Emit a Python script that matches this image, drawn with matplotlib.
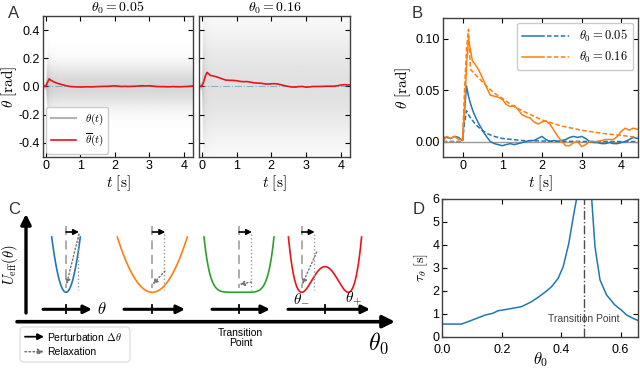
import numpy as np
import matplotlib
matplotlib.use("Agg")
import matplotlib.pyplot as plt
from matplotlib.lines import Line2D
from matplotlib.legend_handler import HandlerTuple
from matplotlib.patches import FancyBboxPatch

plt.rcParams['font.family'] = ['Liberation Sans', 'DejaVu Sans']
plt.rcParams['mathtext.fontset'] = 'cm'
plt.rcParams['axes.unicode_minus'] = False
plt.rcParams['font.size'] = 9

BLUE = '#1f77b4'
ORANGE = '#ff7f0e'
GREEN = '#2ca02c'
RED = '#e8141c'

# ---- mean trajectories (A red lines, B solid lines)
t_mean = [-0.5, -0.4, -0.3, -0.2, -0.1, 0, 0.05, 0.1, 0.15, 0.2, 0.25, 0.3, 0.4, 0.5,
          0.6, 0.7, 0.8, 0.9, 1.0, 1.1, 1.2, 1.3, 1.4, 1.5, 1.6, 1.7, 1.8, 1.9, 2.0,
          2.1, 2.2, 2.3, 2.4, 2.5, 2.6, 2.7, 2.8, 2.9, 3.0, 3.1, 3.2, 3.3, 3.4, 3.5,
          3.6, 3.7, 3.8, 3.9, 4.0, 4.1, 4.2, 4.3, 4.4]
mean_005 = [0.004, 0.004, 0.003, 0.005, 0.004, 0.001, 0.030, 0.054, 0.044, 0.037, 0.031,
            0.026, 0.018, 0.011, 0.005, 0.000, -0.002, -0.003, -0.004, -0.003, -0.002,
            -0.003, -0.002, -0.001, 0.000, 0.001, 0.001, 0.003, 0.005, 0.002, 0.000,
            0.001, 0.000, 0.001, 0.002, 0.004, 0.005, 0.004, 0.005, 0.003, 0.000,
            -0.001, -0.001, -0.002, -0.002, -0.001, -0.002, -0.002, -0.001, 0.000,
            0.002, 0.004, 0.003]
mean_016 = [0.000, 0.005, 0.003, 0.005, 0.002, 0.002, 0.030, 0.073, 0.100, 0.089, 0.078,
            0.076, 0.070, 0.062, 0.053, 0.045, 0.044, 0.043, 0.041, 0.036, 0.034, 0.035,
            0.031, 0.026, 0.024, 0.023, 0.019, 0.017, 0.019, 0.020, 0.017, 0.011, 0.005,
            0.000, -0.004, -0.004, -0.001, 0.000, -0.005, -0.003, 0.000, 0.000, 0.000,
            0.001, 0.002, 0.002, 0.002, 0.005, 0.010, 0.013, 0.011, 0.013, 0.012]

# ---- model fits (B dashed)
t_fit = [-0.5, 0, 0.05, 0.1, 0.15, 0.2, 0.3, 0.4, 0.5, 0.6, 0.8, 1.0, 1.25, 1.5, 2.0,
         2.5, 3.0, 3.5, 4.0, 4.4]
fit_005 = [0, 0, 0.018, 0.030, 0.026, 0.023, 0.018, 0.014, 0.011, 0.008, 0.005, 0.003,
           0.002, 0.001, 0.0005, 0.0002, 0.0001, 0, 0, 0]
fit_016 = [0, 0, 0.050, 0.090, 0.109, 0.070, 0.066, 0.062, 0.058, 0.054, 0.047, 0.042,
           0.035, 0.030, 0.021, 0.015, 0.011, 0.008, 0.006, 0.004]

# ---- spread of the single trajectories (A grey cloud)
t_cloud = [-0.08, 0.0, 0.03, 0.06, 0.1, 0.2, 0.4, 1.0, 2.0, 3.0, 4.3]
sigma_005 = [0.01, 0.015, 0.09, 0.13, 0.12, 0.11, 0.105, 0.105, 0.105, 0.105, 0.105]
dens_005 = [0.45, 0.45, 0.42, 0.38, 0.32, 0.28, 0.27, 0.27, 0.27, 0.27, 0.27]
sigma_016 = [0.01, 0.02, 0.22, 0.32, 0.3, 0.28, 0.27, 0.27, 0.27, 0.27, 0.27]
dens_016 = [0.45, 0.45, 0.36, 0.28, 0.24, 0.21, 0.2, 0.2, 0.2, 0.2, 0.2]

# ---- relaxation time vs theta0 (D)
theta0 = [0.0, 0.065, 0.10, 0.144, 0.17, 0.188, 0.23, 0.267, 0.30, 0.323, 0.35, 0.368,
          0.39, 0.407, 0.426, 0.441, 0.452, 0.458]
tau_left = [0.55, 0.55, 0.72, 0.94, 1.02, 1.13, 1.22, 1.31, 1.52, 1.72, 1.98, 2.18,
            2.54, 3.05, 4.07, 5.23, 6.0, 6.6]
theta0_r = [0.498, 0.503, 0.514, 0.531, 0.553, 0.581, 0.603, 0.62, 0.645, 0.66]
tau_right = [6.6, 6.0, 3.92, 2.47, 1.82, 1.38, 1.16, 0.95, 0.78, 0.70]
transition = 0.477

fig = plt.figure(figsize=(6.4, 3.68), dpi=100)


def style_axes(ax):
    ax.tick_params(direction='in', top=True, right=True, length=3.5, width=0.8,
                   labelsize=9, pad=2)
    for s in ax.spines.values():
        s.set_linewidth(1.0)
        s.set_color('0.25')


def draw_cloud(ax, sigma, dens):
    tt = np.linspace(-0.1, 4.35, 500)
    th = np.linspace(-0.55, 0.55, 300)
    sig = np.interp(tt, t_cloud, sigma)
    amp = np.interp(tt, t_cloud, dens)
    alpha = amp[None, :] * np.exp(-0.5 * (th[:, None] / sig[None, :]) ** 2)
    img = np.zeros((len(th), len(tt), 4))
    img[..., :3] = 0.4
    img[..., 3] = alpha
    ax.imshow(img, extent=[tt[0], tt[-1], th[0], th[-1]], origin='lower',
              aspect='auto', interpolation='bilinear', zorder=0)


# ---------------- Panel A
axA1 = fig.add_axes([0.0672, 0.5734, 0.2344, 0.3832])
axA2 = fig.add_axes([0.3110, 0.5734, 0.2360, 0.3832])
for ax, sig, dens, mean, title in [
        (axA1, sigma_005, dens_005, mean_005, r'$\theta_0 = 0.05$'),
        (axA2, sigma_016, dens_016, mean_016, r'$\theta_0 = 0.16$')]:
    draw_cloud(ax, sig, dens)
    ax.axhline(0, color=BLUE, alpha=0.45, lw=0.8, ls='-.')
    ax.plot(t_mean, mean, color=RED, lw=1.2)
    ax.set_xlim(-0.08, 4.27)
    ax.set_ylim(-0.5, 0.5)
    ax.set_xticks([0, 1, 2, 3, 4])
    ax.set_yticks([-0.4, -0.2, 0.0, 0.2, 0.4])
    ax.set_title(title, fontsize=10, pad=3)
    ax.set_xlabel(r'$t\ [\mathrm{s}]$', fontsize=11, labelpad=1)
    style_axes(ax)
axA1.set_ylabel(r'$\theta\ [\mathrm{rad}]$', fontsize=11, labelpad=0)
axA2.tick_params(labelleft=False)
axA1.legend([Line2D([], [], color='0.7', lw=1.5), Line2D([], [], color=RED, lw=1.2)],
            [r'$\theta(t)$', r'$\overline{\theta}(t)$'], loc='lower left',
            fontsize=8, handlelength=2.3, borderaxespad=0.3, framealpha=1)

# ---------------- Panel B
axB = fig.add_axes([0.6917, 0.5734, 0.3052, 0.3777])
axB.axhline(0, color='0.6', lw=1)
lb, = axB.plot(t_mean, mean_005, color=BLUE, lw=1.1)
lbf, = axB.plot(t_fit, fit_005, color=BLUE, lw=1.1, ls=(0, (3, 1.5)))
lo, = axB.plot(t_mean, mean_016, color=ORANGE, lw=1.1)
lof, = axB.plot(t_fit, fit_016, color=ORANGE, lw=1.1, ls=(0, (3, 1.5)))
axB.set_xlim(-0.5, 4.42)
axB.set_ylim(-0.015, 0.12)
axB.set_xticks([0, 1, 2, 3, 4])
axB.set_yticks([0.0, 0.05, 0.10])
axB.set_yticklabels(['0.00', '0.05', '0.10'])
axB.set_xlabel(r'$t\ [\mathrm{s}]$', fontsize=11, labelpad=1)
axB.set_ylabel(r'$\theta\ [\mathrm{rad}]$', fontsize=11, labelpad=2)
style_axes(axB)
axB.legend([(lb, lbf), (lo, lof)], [r'$\theta_0 = 0.05$', r'$\theta_0 = 0.16$'],
           handler_map={tuple: HandlerTuple(ndivide=None, pad=0.2)},
           handlelength=3.8, loc='upper right', fontsize=9, borderaxespad=0.4,
           framealpha=1)

# ---------------- Panel D
axD = fig.add_axes([0.6911, 0.0851, 0.3063, 0.3742])
axD.plot(theta0, tau_left, color=BLUE, lw=1.1)
axD.plot(theta0_r, tau_right, color=BLUE, lw=1.1)
axD.axvline(transition, color='0.3', lw=1, ls='-.')
axD.text(transition, 0.75, 'Transition Point', ha='center', va='center', fontsize=7.5,
         color='0.25')
axD.set_xlim(0, 0.66)
axD.set_ylim(0, 6)
axD.set_xticks([0.0, 0.2, 0.4, 0.6])
axD.set_yticks([0, 1, 2, 3, 4, 5, 6])
axD.set_ylabel(r'$\tau_\theta\ [\mathrm{s}]$', fontsize=10, labelpad=2)
style_axes(axD)
axD.tick_params(axis='x', pad=5)
axD.set_xlabel(r'$\theta_0$', fontsize=12, labelpad=-4)

# ---------------- Panel C (schematic, axes in pixel units)
axC = fig.add_axes([0, 0, 420 / 640, 190 / 368])
axC.set_xlim(0, 420)
axC.set_ylim(368, 178)
axC.axis('off')

well_x = [66, 152.3, 239, 325]
well_hw = [14.3, 35, 35, 36.6]
well_kind = ['narrow', 'wide', 'flat', 'double']
well_col = [BLUE, ORANGE, GREEN, RED]
y_min, y_top = 292.3, 237.0
depth = y_min - y_top
relax_start = [(79, 234), (165, 271), (251.5, 282), (316.7, 252)]
axis_span = [(43, 92), (124, 185), (212, 270), (288, 370)]
axis_y = 309.3
kick = 12

for cx, hw, kind, col, rs, span in zip(well_x, well_hw, well_kind, well_col,
                                        relax_start, axis_span):
    u = np.linspace(-1, 1, 200)
    if kind in ('narrow', 'wide'):
        y = y_min - depth * u ** 2
        x0 = cx
    elif kind == 'flat':
        y = y_min - depth * u ** 6
        x0 = cx
    else:
        b = 23.3 / hw
        pot = (u ** 2 - b ** 2) ** 2
        y = y_min - depth * pot / pot[0]
        x0 = cx - 23.3
    axC.plot(cx + hw * u, y, color=col, lw=1.2)
    # unperturbed position and kick
    axC.plot([x0, x0], [226, y_min - 4], color='0.65', lw=1.3, ls=(0, (5, 3)))
    axC.annotate('', xy=(x0 + kick + 1, 232), xytext=(x0, 232),
                 arrowprops=dict(arrowstyle='-|>', color='k', lw=1.2,
                                 mutation_scale=8, shrinkA=0, shrinkB=0))
    axC.plot([x0 + kick, x0 + kick], [234, y_min - 2], color='0.6', lw=1, ls=':')
    axC.annotate('', xy=(x0 + 0.5, y_min - 8), xytext=rs,
                 arrowprops=dict(arrowstyle='-|>', color='0.45', lw=1, ls=':',
                                 mutation_scale=7, shrinkA=0, shrinkB=0))
    # small theta axis
    axC.annotate('', xy=(span[1], axis_y), xytext=(span[0], axis_y),
                 arrowprops=dict(arrowstyle='-|>', color='k', lw=2.2,
                                 mutation_scale=12, shrinkA=0, shrinkB=0))
    axC.plot([cx, cx], [axis_y - 4, axis_y + 4], color='k', lw=1.3)

axC.text(97, axis_y, r'$\theta$', fontsize=12, va='center', ha='left')
axC.text(301.7, 299, r'$\theta_{-}$', fontsize=11, va='center', ha='center')
axC.text(353.3, 299, r'$\theta_{+}$', fontsize=11, va='center', ha='center')

# U_eff axis
axC.annotate('', xy=(26, 214), xytext=(26, 313),
             arrowprops=dict(arrowstyle='-|>', color='k', lw=2.4,
                             mutation_scale=15, shrinkA=0, shrinkB=0))
axC.text(10, 265, r'$U_{\mathrm{eff}}(\theta)$', fontsize=10.5, rotation=90,
         va='center', ha='center')
# theta0 axis
axC.annotate('', xy=(395, 321.7), xytext=(17, 321.7),
             arrowprops=dict(arrowstyle='-|>', color='k', lw=2.6,
                             mutation_scale=18, shrinkA=0, shrinkB=0))
axC.text(378, 343, r'$\theta_0$', fontsize=17, va='center', ha='center')
axC.text(240.7, 338, 'Transition\nPoint', fontsize=7.5, ha='center', va='center',
         linespacing=1.1)

# legend box
axC.add_patch(FancyBboxPatch((20, 327), 110, 35,
                             boxstyle='round,pad=0,rounding_size=4',
                             ec='0.85', fc='white', lw=0.8))
axC.annotate('', xy=(44, 336.7), xytext=(25, 336.7),
             arrowprops=dict(arrowstyle='-|>', color='k', lw=1.3,
                             mutation_scale=9, shrinkA=0, shrinkB=0))
axC.annotate('', xy=(44, 351.7), xytext=(25, 351.7),
             arrowprops=dict(arrowstyle='-|>', color='0.45', lw=1.1, ls=':',
                             mutation_scale=9, shrinkA=0, shrinkB=0))
axC.text(47, 336.7, r'Perturbation $\Delta\theta$', fontsize=7.5, va='center')
axC.text(47, 351.7, 'Relaxation', fontsize=7.5, va='center')

# panel letters
for x, y, s in [(0.012, 0.962, 'A'), (0.643, 0.962, 'B'), (0.012, 0.43, 'C'),
                (0.645, 0.43, 'D')]:
    fig.text(x, y, s, fontsize=12, va='center', ha='left', color='0.2')

fig.savefig('out.png', dpi=100)
